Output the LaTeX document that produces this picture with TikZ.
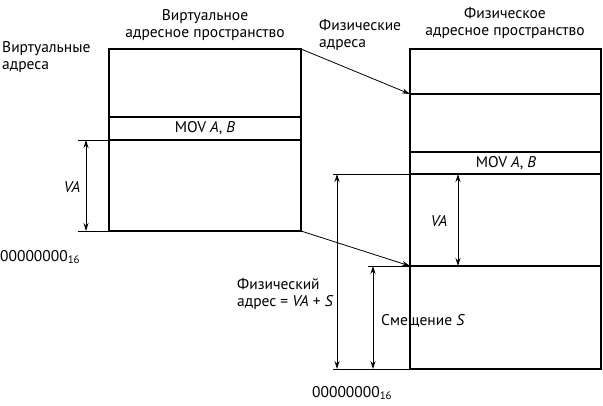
\documentclass[tikz,border=0pt]{standalone}
\usepackage{fontspec}
\setmainfont{PT Sans}
\usetikzlibrary{arrows.meta}
\begin{document}
\begin{tikzpicture}[x=1pt,y=-1pt,
  box/.style={line width=1.6pt},
  thinl/.style={line width=0.8pt},
  arr/.style={thinl,-{Stealth[length=8pt,width=5pt]}},
  darr/.style={thinl,{Stealth[length=8pt,width=5pt]}-{Stealth[length=8pt,width=5pt]}},
  lbl/.style={font=\fontsize{15.5}{17}\selectfont, inner sep=0pt}
]
\useasboundingbox (0,0) rectangle (603,405);
% left box (virtual)
\coordinate (LTL) at (109,49);
\coordinate (LTR) at (301,49);
\coordinate (LBL) at (109,231);
\coordinate (LBR) at (301,231);
\draw[box] (LTL) rectangle (LBR);
\draw[box] (109,117) -- (301,117);
\draw[box] (109,140) coordinate (LMB) -- (301,140);
\node[lbl] (movL) at (205,128.5) {MOV \textit{A}, \textit{B}};
% right box (physical)
\coordinate (RTL) at (410,49);
\coordinate (RBR) at (601,369);
\draw[box] (RTL) rectangle (RBR);
\draw[box] (410,94) coordinate (R94) -- (601,94);
\draw[box] (410,152) -- (601,152);
\draw[box] (410,174) coordinate (R174) -- (601,174);
\draw[box] (410,266) coordinate (R266) -- (601,266);
\coordinate (R369) at (410,369);
\node[lbl] (movR) at (506,163) {MOV \textit{A}, \textit{B}};
% mapping arrows
\draw[arr] (LTR) -- (R94);
\draw[arr] (LBR) -- (R266);
% left VA dimension
\coordinate (lt1) at (78,140);
\coordinate (lt2) at (78,231);
\draw[thinl] (lt1) -- (LMB);
\draw[thinl] (lt2) -- (LBL);
\coordinate (la1) at (86,140);
\coordinate (la2) at (86,231);
\draw[darr] (la1) -- (la2);
\node[lbl] (vaL) at (72,187) {\textit{VA}};
% right dimensions
\coordinate (rt1) at (333,174);
\coordinate (rt2) at (333,369);
\coordinate (rt3) at (368,266);
\draw[thinl] (rt1) -- (R174);
\draw[thinl] (rt2) -- (R369);
\draw[thinl] (rt3) -- (R266);
\coordinate (ra1) at (337,174);
\coordinate (ra2) at (337,369);
\draw[darr] (ra1) -- (ra2);
\coordinate (rb1) at (373,266);
\coordinate (rb2) at (373,369);
\draw[darr] (rb1) -- (rb2);
\coordinate (rc1) at (458,174);
\coordinate (rc2) at (458,266);
\draw[darr] (rc1) -- (rc2);
\node[lbl] (vaR) at (439,221) {\textit{VA}};
% labels
\node[lbl,align=center] (tVirt) at (205,25) {Виртуальное\\адресное пространство};
\node[lbl,align=left,anchor=west] (vAddr) at (2,57) {Виртуальные\\адреса};
\node[lbl,align=left,anchor=west] (pAddr) at (319,35) {Физические\\адреса};
\node[lbl,align=center] (tPhys) at (505,23) {Физическое\\адресное пространство};
\node[lbl,align=left,anchor=west] (pa) at (237,294) {Физический\\адрес = \textit{VA} + \textit{S}};
\node[lbl,anchor=west] (sm) at (381,321) {Смещение \textit{S}};
\node[lbl,anchor=west] (z1) at (0,257) {00000000\textsubscript{16}};
\node[lbl,anchor=west] (z2) at (312,393) {00000000\textsubscript{16}};
\end{tikzpicture}
\end{document}
